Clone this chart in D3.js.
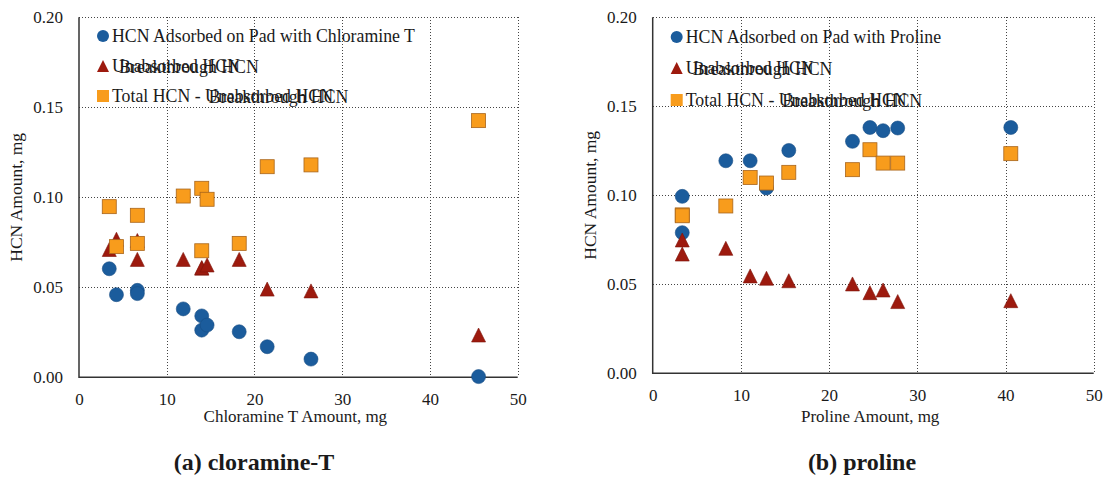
<!DOCTYPE html>
<html lang="en">
<head>
  <meta charset="UTF-8">
  <script src="https://d3js.org/d3.v7.min.js"></script>
  <title>HCN amount vs chloramine-T / proline</title>
  <style>
    body { margin: 0; background: #fff; }
    text { font-family: "Liberation Serif", "Times New Roman", serif; fill: #1a1a1a; }
  </style>
</head>
<body>
  <svg id="chart" width="1106" height="479"></svg>
  <script>
    // axis ticks
    const xTicks = [0, 10, 20, 30, 40, 50];
    const yTicks = [0, 0.05, 0.10, 0.15, 0.20];

    // (a) chloramine-T
    const chlorAmount   = [3.45, 4.27, 6.65, 6.65, 11.88, 13.99, 13.99, 14.6, 18.26, 21.45, 26.44, 45.54];
    const chlorAdsorbed = [0.0603, 0.0459, 0.0483, 0.0465, 0.038, 0.0341, 0.0262, 0.029, 0.0253, 0.017, 0.0101, 0.0004];
    const chlorUnabs    = [0.071, 0.0767, 0.076, 0.0655, 0.0655, 0.0606, 0.061, 0.0624, 0.0655, 0.049, 0.048, 0.0235];
    const chlorTotal    = [0.0948, 0.0726, 0.090, 0.0744, 0.1007, 0.105, 0.0703, 0.0989, 0.0744, 0.117, 0.118, 0.1426];

    // (b) proline
    const prolAmount   = [3.35, 3.35, 8.29, 11.05, 12.9, 15.43, 22.65, 24.63, 26.12, 27.78, 40.6];
    const prolAdsorbed = [0.0994, 0.079, 0.1194, 0.1194, 0.1041, 0.1252, 0.1303, 0.1381, 0.1363, 0.1378, 0.1381];
    const prolUnabs    = [0.067, 0.0749, 0.0702, 0.0547, 0.0534, 0.052, 0.0502, 0.0453, 0.0468, 0.0403, 0.0408];
    const prolTotal    = [0.089, 0.0885, 0.094, 0.110, 0.1069, 0.1129, 0.1144, 0.1256, 0.1181, 0.1181, 0.1234];

    const BLUE = "#1b5c9c", RED = "#9d1a0e", ORANGE = "#f89c1c";
    const svg = d3.select("#chart");

    // triangle centred on its box
    const tri = s => `M0,${-s/2}L${s/2},${s/2}L${-s/2},${s/2}Z`;
    const px = v => Math.round(v) + 0.5;

    function panel(p) {
      const x = d3.scaleLinear().domain([0, 50]).range([p.left, p.right]);
      const y = d3.scaleLinear().domain([0, 0.2]).range([p.bottom, p.top]);
      const g = svg.append("g");

      // dotted grid
      const grid = g.append("g").attr("stroke", "#444").attr("stroke-width", 1)
        .attr("stroke-dasharray", "1,2").attr("shape-rendering", "crispEdges");
      grid.selectAll("line.v").data(xTicks.slice(1)).join("line").attr("class", "v")
        .attr("x1", d => px(x(d))).attr("x2", d => px(x(d)))
        .attr("y1", p.top).attr("y2", p.bottom);
      grid.selectAll("line.h").data(yTicks.slice(1)).join("line").attr("class", "h")
        .attr("x1", p.left).attr("x2", p.right)
        .attr("y1", d => px(y(d))).attr("y2", d => px(y(d)));

      // axes (labels only, lines drawn below)
      const xa = g.append("g").attr("transform", `translate(0,${p.bottom})`)
        .call(d3.axisBottom(x).tickValues(xTicks).tickSize(0).tickPadding(16));
      const ya = g.append("g").attr("transform", `translate(${p.left},0)`)
        .call(d3.axisLeft(y).tickValues(yTicks).tickSize(0).tickPadding(16).tickFormat(d3.format(".2f")));
      [xa, ya].forEach(a => {
        a.select(".domain").remove();
        a.selectAll("text").style("font-family", '"Liberation Serif", serif')
          .style("font-size", "17px").attr("fill", "#1a1a1a");
      });

      g.append("path")
        .attr("d", `M${p.left},${p.top}V${p.bottom}H${p.right}`)
        .attr("fill", "none").attr("stroke", "#333").attr("stroke-width", 1.5);

      // markers: circles, then triangles, then squares on top
      g.append("g").selectAll("circle").data(d3.zip(p.xs, p.adsorbed)).join("circle")
        .attr("cx", d => x(d[0])).attr("cy", d => y(d[1])).attr("r", 7)
        .attr("fill", BLUE).attr("stroke", "#174d85").attr("stroke-width", 0.6);
      g.append("g").selectAll("path").data(d3.zip(p.xs, p.unabs)).join("path")
        .attr("transform", d => `translate(${x(d[0])},${y(d[1])})`)
        .attr("d", tri(14)).attr("fill", RED).attr("stroke", "#7e140a").attr("stroke-width", 0.6);
      g.append("g").selectAll("rect").data(d3.zip(p.xs, p.total)).join("rect")
        .attr("x", d => x(d[0]) - 7).attr("y", d => y(d[1]) - 7)
        .attr("width", 14).attr("height", 14)
        .attr("fill", ORANGE).attr("stroke", "#a8651c").attr("stroke-width", 0.8);

      // titles
      svg.append("text").attr("x", (p.left + p.right) / 2 - 3).attr("y", 422)
        .attr("text-anchor", "middle").style("font-size", "17px").text(p.xTitle);
      svg.append("text")
        .attr("transform", `translate(${p.yTitleX},${(p.top + p.bottom) / 2}) rotate(-90)`)
        .attr("text-anchor", "middle").style("font-size", "17.5px").text("HCN Amount, mg");
      svg.append("text").attr("x", p.captionX).attr("y", 470)
        .attr("text-anchor", "middle").style("font-size", "24px").style("font-weight", "bold")
        .text(p.caption);

      // legend (with the overlapping label text of the original)
      const lx = p.left + 24, tx = lx + 9, fs = "17.8px";
      const rows = p.legendY;
      svg.append("circle").attr("cx", lx).attr("cy", rows[0]).attr("r", 6).attr("fill", BLUE);
      svg.append("path").attr("transform", `translate(${lx},${rows[1]})`).attr("d", tri(12)).attr("fill", RED);
      svg.append("rect").attr("x", lx - 6).attr("y", rows[2] - 6).attr("width", 12).attr("height", 12).attr("fill", ORANGE);
      const lt = (xp, yp, s) => svg.append("text").attr("x", xp).attr("y", yp)
        .attr("dy", "0.35em").style("font-size", fs).text(s);
      lt(tx, rows[0], p.legendLabel);
      lt(tx, rows[1], "Unabsorbed HCN");
      lt(tx + 7, rows[1] + 1, "Breakthrough HCN");
      const pre = lt(tx, rows[2], "Total HCN - ");
      const w = pre.node().getComputedTextLength();
      pre.text("Total HCN - Unabsorbed HCN");
      lt(tx + w + 8, rows[2] + 1, "Breakthrough HCN");
    }

    panel({
      left: 79, right: 517.7, top: 17.3, bottom: 377.3,
      xs: chlorAmount, adsorbed: chlorAdsorbed, unabs: chlorUnabs, total: chlorTotal,
      xTitle: "Chloramine T Amount, mg", caption: "(a) cloramine-T", captionX: 254, yTitleX: 22,
      legendLabel: "HCN Adsorbed on Pad with Chloramine T", legendY: [36, 66, 96]
    });
    panel({
      left: 652.7, right: 1093.7, top: 17.3, bottom: 373.3,
      xs: prolAmount, adsorbed: prolAdsorbed, unabs: prolUnabs, total: prolTotal,
      xTitle: "Proline Amount, mg", caption: "(b) proline", captionX: 862, yTitleX: 596,
      legendLabel: "HCN Adsorbed on Pad with Proline", legendY: [37, 68, 100]
    });
  </script>
</body>
</html>
